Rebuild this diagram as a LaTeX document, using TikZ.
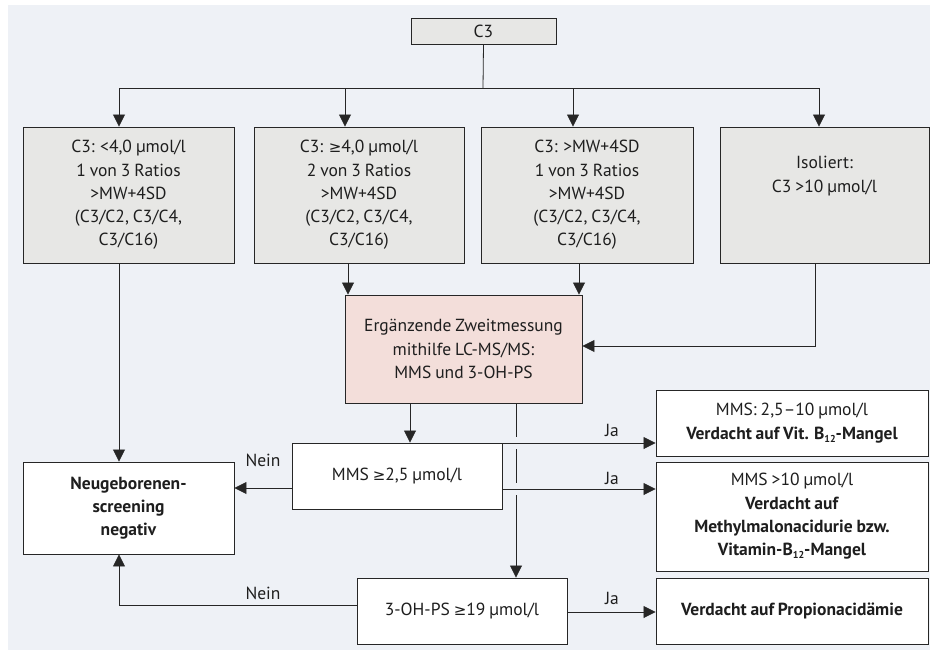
\documentclass[tikz,border=0pt]{standalone}
\usepackage{fontspec}
\setmainfont[WordSpace=0.85]{PT Sans}
\newfontfamily\symf{DejaVu Sans}
\usetikzlibrary{arrows.meta}
\newcommand{\dfont}{\fontsize{17.5}{23.3}\selectfont}
\newcommand{\mygeq}{{\symf\fontsize{15}{23.3}\selectfont ≥}}
\newcommand{\subtw}{\raisebox{-3pt}{\fontsize{10}{10}\selectfont 12}}
\definecolor{bgc}{HTML}{EEF1F6}
\definecolor{grayfill}{HTML}{E7E7E5}
\definecolor{pinkfill}{HTML}{F3DEDA}
\definecolor{txt}{HTML}{1E1E1E}
\begin{document}
\begin{tikzpicture}[x=1pt,y=-1pt,
  box/.style={draw=black!85, line width=0.9pt, inner sep=0pt, align=center, font=\dfont, text=txt, fill=white},
  graybox/.style={box, fill=grayfill},
  conn/.style={line width=0.8pt, draw=black!85},
  arr/.style={conn, -{Triangle[length=12pt,width=12pt]}},
  lbl/.style={font=\dfont, text=txt, inner sep=0pt}]
\useasboundingbox (0,0) rectangle (930,656);
\fill[white] (0,0) rectangle (930,656);
\fill[bgc] (8,5) rectangle (930,650);

% nodes
\node[graybox, minimum width=145pt, minimum height=26pt] (c3) at (483.5,31) {C3};
\node[graybox, minimum width=211pt, minimum height=136pt] (b1) at (128.5,195)
  {C3: <4,0 µmol/l\\1 von 3 Ratios\\>MW+4SD\\(C3/C2, C3/C4,\\C3/C16)};
\node[graybox, minimum width=210pt, minimum height=136pt] (b2) at (359,195)
  {C3: \mygeq 4,0 µmol/l\\2 von 3 Ratios\\>MW+4SD\\(C3/C2, C3/C4,\\C3/C16)};
\node[graybox, minimum width=212pt, minimum height=136pt] (b3) at (587,195)
  {C3: >MW+4SD\\1 von 3 Ratios\\>MW+4SD\\(C3/C2, C3/C4,\\C3/C16)};
\node[graybox, minimum width=209pt, minimum height=136pt] (b4) at (824.5,195) {};
\node[lbl, align=center] (b4t) at (824.5,176) {Isoliert:\\C3 >10 µmol/l};
\node[box, fill=pinkfill, minimum width=237pt, minimum height=108pt] (pk) at (463.5,349)
  {Ergänzende Zweitmessung\\mithilfe LC-MS/MS:\\MMS und 3-OH-PS};
\node[box, minimum width=210pt, minimum height=66pt] (mms) at (397,476) {MMS \mygeq 2,5 µmol/l};
\node[box, minimum width=210pt, minimum height=66pt] (oh) at (462,611) {3-OH-PS \mygeq 19 µmol/l};
\node[box, minimum width=211pt, minimum height=92pt, font=\dfont\bfseries] (neg) at (128.5,508)
  {Neugeborenen-\\screening\\negativ};
\node[box, minimum width=272pt, minimum height=66pt] (r1) at (792,423)
  {MMS: 2,5–10 µmol/l\\\textbf{Verdacht auf Vit. B\subtw-Mangel}};
\node[box, minimum width=272pt, minimum height=109pt] (r2) at (792,516.5)
  {MMS >10 µmol/l\\\textbf{Verdacht auf}\\\textbf{Methylmalonacidurie bzw.}\\\textbf{Vitamin-B\subtw-Mangel}};
\node[box, minimum width=272pt, minimum height=66pt, font=\dfont\bfseries] (r3) at (792,611)
  {Verdacht auf Propionacidämie};

% top distribution
\coordinate (j0) at (483,88);
\coordinate (j1) at (119,88);
\coordinate (j2) at (345,88);
\coordinate (j3) at (573,88);
\coordinate (j4) at (819,88);
\draw[conn] (c3.south) -- (j0);
\draw[conn] (j1) -- (j4);
\draw[arr] (j1) -- (j1 |- b1.north);
\draw[arr] (j2) -- (j2 |- b2.north);
\draw[arr] (j3) -- (j3 |- b3.north);
\draw[arr] (j4) -- (j4 |- b4.north);

% to second measurement
\coordinate (s2) at (348,263);
\coordinate (s3) at (579,263);
\coordinate (s4) at (815,263);
\coordinate (s4b) at (815,346);
\draw[arr] (s2) -- (s2 |- pk.north);
\draw[arr] (s3) -- (s3 |- pk.north);
\draw[arr] (s4) -- (s4b) -- (s4b -| pk.east);

% b1 to negative
\coordinate (n1) at (119,263);
\draw[arr] (n1) -- (n1 |- neg.north);

% pink to tests
\coordinate (p1) at (410,403);
\coordinate (p2) at (516,403);
\draw[arr] (p1) -- (p1 |- mms.north);
\draw[arr] (p2) -- (p2 |- oh.north);
\fill[bgc] (512,437) rectangle (520,449);
\fill[bgc] (512,483) rectangle (520,495);

% Nein
\coordinate (m1) at (292,488);
\draw[arr] (m1) -- (m1 -| neg.east);
\node[lbl] (nein1) at (263,460) {Nein};
\coordinate (o1) at (357,605);
\coordinate (o2) at (119,605);
\draw[arr] (o1) -- (o2) -- (o2 |- neg.south);
\node[lbl] (nein2) at (263,593) {Nein};

% Ja
\coordinate (y1) at (502,443);
\coordinate (y2) at (502,489);
\coordinate (y3) at (567,612);
\draw[arr] (y1) -- (y1 -| r1.west);
\draw[arr] (y2) -- (y2 -| r2.west);
\draw[arr] (y3) -- (y3 -| r3.west);
\node[lbl] (ja1) at (612,430) {Ja};
\node[lbl] (ja2) at (612,478) {Ja};
\node[lbl] (ja3) at (612,598) {Ja};
\end{tikzpicture}
\end{document}
